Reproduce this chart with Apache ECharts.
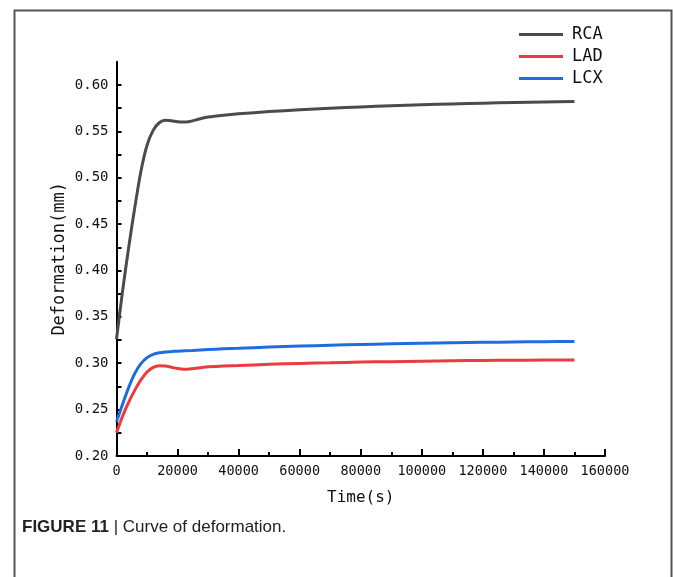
<!DOCTYPE html>
<html>
<head>
<meta charset="utf-8">
<script src="https://cdn.jsdelivr.net/npm/echarts@6/dist/echarts.min.js"></script>
<style>
html,body{margin:0;padding:0;background:#fff;}
#chart{width:673px;height:577px;}
</style>
</head>
<body>
<div id="chart"></div>
<script>
// ---- data ----
var seriesNames = ['RCA', 'LAD', 'LCX'];
var timeRCA = [0, 2000, 4000, 6000, 8000, 10000, 12000, 14000, 16000, 18000, 20000, 22000, 24000, 26000, 28000, 30000, 35000, 40000, 50000, 60000, 70000, 80000, 90000, 100000, 110000, 120000, 130000, 140000, 150000];
var valRCA  = [0.326, 0.378, 0.425, 0.468, 0.507, 0.535, 0.551, 0.5592, 0.5618, 0.5613, 0.5602, 0.5599, 0.5606, 0.5623, 0.5641, 0.5654, 0.5673, 0.5688, 0.5712, 0.5732, 0.5748, 0.5762, 0.5775, 0.5785, 0.5795, 0.5803, 0.5810, 0.5815, 0.5820];
var timeLAD = [0, 2000, 4000, 6000, 8000, 10000, 12000, 14000, 16000, 18000, 20000, 22000, 24000, 26000, 28000, 30000, 35000, 40000, 50000, 60000, 70000, 80000, 90000, 100000, 110000, 120000, 130000, 140000, 150000];
var valLAD  = [0.225, 0.243, 0.258, 0.271, 0.282, 0.2905, 0.2955, 0.2974, 0.2970, 0.2956, 0.2943, 0.2936, 0.2939, 0.2947, 0.2955, 0.2961, 0.2970, 0.2976, 0.2988, 0.2998, 0.3005, 0.3012, 0.3017, 0.3022, 0.3026, 0.3030, 0.3032, 0.3034, 0.3036];
var timeLCX = [0, 2000, 4000, 6000, 8000, 10000, 12000, 14000, 16000, 18000, 20000, 25000, 30000, 35000, 40000, 50000, 60000, 70000, 80000, 90000, 100000, 110000, 120000, 130000, 140000, 150000];
var valLCX  = [0.237, 0.256, 0.274, 0.289, 0.2995, 0.306, 0.3095, 0.3113, 0.3122, 0.3126, 0.3130, 0.3138, 0.3147, 0.3155, 0.3161, 0.3174, 0.3185, 0.3194, 0.3202, 0.3209, 0.3215, 0.3220, 0.3225, 0.3229, 0.3232, 0.3235];
var yTickLabels = ['0.20', '0.25', '0.30', '0.35', '0.40', '0.45', '0.50', '0.55', '0.60'];
var xTickLabels = ['0', '20000', '40000', '60000', '80000', '100000', '120000', '140000', '160000'];
var xTitle = 'Time(s)';
var yTitle = 'Deformation(mm)';
var captionBold = 'FIGURE 11';
var captionText = ' | Curve of deformation.';

function pairs(t, v) { return t.map(function (x, i) { return [x, v[i]]; }); }

var MONO = '"DejaVu Sans Mono", "Liberation Mono", monospace';
var CAP = '"Liberation Sans Narrow", "Liberation Sans", Arial, sans-serif';
var colors = {RCA: '#4b4b4b', LAD: '#ec3a40', LCX: '#1f6ce0'};
var chart = echarts.init(document.getElementById('chart'), null, {renderer: 'canvas'});
chart.setOption({
  backgroundColor: '#ffffff',
  animation: false,
  grid: {left: 116.5, right: 68, top: 61.7, bottom: 121},
  legend: {
    orient: 'vertical',
    left: 514,
    top: 21,
    icon: 'rect',
    itemWidth: 44,
    itemHeight: 3,
    itemGap: 5,
    data: seriesNames,
    textStyle: {fontFamily: MONO, fontSize: 17, lineHeight: 17, color: '#111', padding: [0, 0, 0, 4]}
  },
  xAxis: {
    type: 'value',
    min: 0, max: 160000, interval: 20000,
    name: xTitle,
    nameLocation: 'middle',
    nameGap: 34,
    nameMoveOverlap: false,
    nameTextStyle: {fontFamily: MONO, fontSize: 16, color: '#111'},
    axisLine: {onZero: false, lineStyle: {color: '#000', width: 2}},
    axisTick: {inside: true, length: 7, lineStyle: {color: '#000', width: 2}},
    minorTick: {show: true, splitNumber: 2, length: 4, lineStyle: {color: '#000', width: 2}},
    splitLine: {show: false},
    minorSplitLine: {show: false},
    axisLabel: {
      fontFamily: MONO, fontSize: 13.5, color: '#111', margin: 8,
      formatter: function (v) { return xTickLabels[Math.round(v / 20000)] || ''; }
    }
  },
  yAxis: {
    type: 'value',
    min: 0.2, max: 0.625, interval: 0.025,
    name: yTitle,
    nameLocation: 'middle',
    nameGap: 48,
    nameMoveOverlap: false,
    nameRotate: 90,
    nameTextStyle: {fontFamily: MONO, fontSize: 17, color: '#111'},
    axisLine: {onZero: false, lineStyle: {color: '#000', width: 2}},
    axisTick: {inside: true, length: 5, lineStyle: {color: '#000', width: 2}},
    splitLine: {show: false},
    axisLabel: {
      fontFamily: MONO, fontSize: 14, color: '#111', margin: 8,
      showMaxLabel: false,
      formatter: function (v) {
        var k = Math.round(v * 1000);
        if (k % 50 !== 0) return '';
        return yTickLabels[(k - 200) / 50] || '';
      }
    }
  },
  series: seriesNames.map(function (n) {
    var t = n === 'RCA' ? timeRCA : (n === 'LAD' ? timeLAD : timeLCX);
    var v = n === 'RCA' ? valRCA : (n === 'LAD' ? valLAD : valLCX);
    return {name: n, type: 'line', data: pairs(t, v), symbol: 'none', showSymbol: false, smooth: 0.3,
            lineStyle: {color: colors[n], width: 3}, itemStyle: {color: colors[n]}};
  }),
  graphic: [
    {type: 'rect', left: 12, top: 8, shape: {x: 0, y: 0, width: 657, height: 600},
     style: {fill: null, stroke: '#555', lineWidth: 2}, silent: true},
    {type: 'text', left: 22, top: 519,
     style: {
       text: '{b|' + captionBold + '}{r|' + captionText + '}',
       rich: {
         b: {fontFamily: CAP, fontWeight: 'bold', fontSize: 17, fill: '#222'},
         r: {fontFamily: CAP, fontSize: 17, fill: '#222'}
       }
     }}
  ]
});
</script>
</body>
</html>
